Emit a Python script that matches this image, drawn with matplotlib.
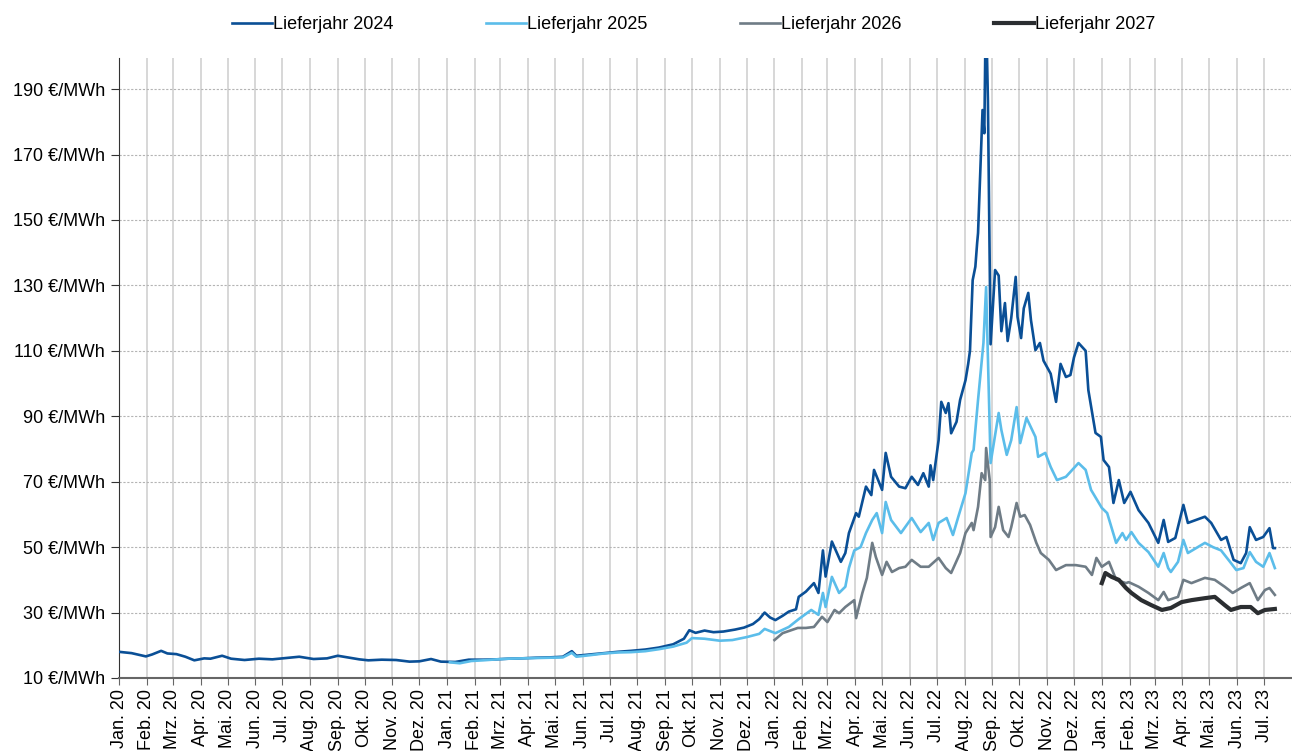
import numpy as np
import pandas as pd
import matplotlib
matplotlib.use("Agg")
import matplotlib.pyplot as plt

plt.rcParams['font.family'] = ['Liberation Sans', 'DejaVu Sans']

## Lieferjahr 2024
tage_2024 = ["2020-01-01", "2020-01-15", "2020-01-31", "2020-02-07", "2020-02-17", "2020-02-24",
             "2020-03-05", "2020-03-15", "2020-03-25", "2020-04-05", "2020-04-12", "2020-04-25",
             "2020-05-05", "2020-05-20", "2020-06-05", "2020-06-20", "2020-07-05", "2020-07-20",
             "2020-08-05", "2020-08-20", "2020-09-01", "2020-09-10", "2020-09-25", "2020-10-05",
             "2020-10-20", "2020-11-05", "2020-11-20", "2020-12-01", "2020-12-14", "2020-12-25",
             "2021-01-10", "2021-01-25", "2021-02-10", "2021-02-25", "2021-03-10", "2021-03-25",
             "2021-04-10", "2021-04-25", "2021-05-10", "2021-05-20", "2021-05-25", "2021-06-10",
             "2021-06-25", "2021-07-10", "2021-07-25", "2021-08-10", "2021-08-25", "2021-09-10",
             "2021-09-22", "2021-09-28", "2021-10-05", "2021-10-15", "2021-10-25", "2021-11-05",
             "2021-11-18", "2021-11-28", "2021-12-08", "2021-12-15", "2021-12-21", "2021-12-27",
             "2022-01-02", "2022-01-10", "2022-01-17", "2022-01-25", "2022-01-28", "2022-02-05",
             "2022-02-14", "2022-02-19", "2022-02-24", "2022-02-27", "2022-03-06", "2022-03-16",
             "2022-03-21", "2022-03-25", "2022-04-02", "2022-04-05", "2022-04-13", "2022-04-19",
             "2022-04-22", "2022-05-01", "2022-05-05", "2022-05-11", "2022-05-20", "2022-05-27",
             "2022-06-03", "2022-06-10", "2022-06-16", "2022-06-22", "2022-06-24", "2022-06-27",
             "2022-07-03", "2022-07-06", "2022-07-11", "2022-07-14", "2022-07-17", "2022-07-23",
             "2022-07-27", "2022-08-02", "2022-08-05", "2022-08-07", "2022-08-10", "2022-08-13",
             "2022-08-15", "2022-08-16", "2022-08-21", "2022-08-23", "2022-08-24", "2022-08-26",
             "2022-08-27", "2022-08-30", "2022-09-04", "2022-09-08", "2022-09-11", "2022-09-15",
             "2022-09-18", "2022-09-22", "2022-09-27", "2022-09-29", "2022-10-03", "2022-10-06",
             "2022-10-11", "2022-10-14", "2022-10-19", "2022-10-24", "2022-10-28", "2022-11-01",
             "2022-11-05", "2022-11-11", "2022-11-16", "2022-11-22", "2022-11-27", "2022-12-01",
             "2022-12-06", "2022-12-14", "2022-12-17", "2022-12-25", "2022-12-31", "2023-01-03",
             "2023-01-09", "2023-01-14", "2023-01-20", "2023-01-26", "2023-02-02", "2023-02-11",
             "2023-02-22", "2023-03-05", "2023-03-11", "2023-03-16", "2023-03-24", "2023-04-02",
             "2023-04-07", "2023-04-16", "2023-04-26", "2023-05-03", "2023-05-14", "2023-05-20",
             "2023-05-28", "2023-06-05", "2023-06-11", "2023-06-15", "2023-06-22", "2023-06-30",
             "2023-07-07", "2023-07-11", "2023-07-13"]
werte_2024 = [18.0, 17.6, 16.6, 17.2, 18.3, 17.5,
              17.3, 16.5, 15.4, 16.0, 15.9, 16.8,
              15.9, 15.5, 15.9, 15.7, 16.1, 16.5,
              15.8, 16.0, 16.8, 16.4, 15.7, 15.4,
              15.6, 15.5, 15.0, 15.1, 15.8, 15.0,
              14.9, 15.6, 15.6, 15.7, 15.9, 16.0,
              16.2, 16.3, 16.5, 18.2, 16.8, 17.2,
              17.6, 18.0, 18.3, 18.7, 19.3, 20.3,
              22.0, 24.6, 23.8, 24.5, 24.0, 24.2,
              24.8, 25.4, 26.5, 28.0, 30.0, 28.5,
              27.7, 29.0, 30.3, 31.0, 34.8, 36.4,
              39.0, 36.0, 49.0, 41.0, 51.7, 45.5,
              48.2, 54.3, 60.4, 59.3, 68.5, 65.9,
              73.6, 67.5, 78.8, 71.5, 68.5, 68.0,
              71.5, 69.0, 72.6, 68.5, 75.0, 70.5,
              82.7, 94.4, 91.0, 94.0, 84.8, 88.3,
              95.0, 101.0, 106.0, 110.0, 131.6, 135.7,
              143.0, 146.0, 183.6, 176.5, 200.0, 200.0,
              186.6, 112.0, 134.7, 133.0, 116.0, 124.6,
              113.0, 120.0, 132.6, 120.4, 113.9, 123.0,
              127.7, 119.4, 110.2, 112.4, 107.0, 105.0,
              103.0, 94.4, 106.0, 102.0, 102.6, 108.0,
              112.4, 110.0, 98.0, 84.9, 83.7, 76.6,
              74.5, 63.5, 70.5, 63.5, 66.9, 61.3,
              57.4, 51.3, 58.3, 51.6, 52.8, 62.9,
              57.4, 58.3, 59.3, 57.4, 52.2, 53.1,
              46.1, 45.1, 48.2, 56.1, 52.2, 53.1,
              55.8, 49.7, 49.7]

## Lieferjahr 2025
tage_2025 = ["2021-01-04", "2021-01-15", "2021-01-28", "2021-02-10", "2021-02-25", "2021-03-10",
             "2021-03-25", "2021-04-10", "2021-04-25", "2021-05-10", "2021-05-20", "2021-05-25",
             "2021-06-10", "2021-06-25", "2021-07-10", "2021-07-25", "2021-08-10", "2021-08-25",
             "2021-09-10", "2021-09-25", "2021-10-01", "2021-10-15", "2021-11-01", "2021-11-15",
             "2021-12-01", "2021-12-15", "2021-12-21", "2022-01-02", "2022-01-17", "2022-01-28",
             "2022-02-11", "2022-02-19", "2022-02-24", "2022-02-27", "2022-03-06", "2022-03-14",
             "2022-03-21", "2022-03-25", "2022-03-31", "2022-04-07", "2022-04-13", "2022-04-20",
             "2022-04-25", "2022-05-01", "2022-05-05", "2022-05-11", "2022-05-22", "2022-06-03",
             "2022-06-13", "2022-06-22", "2022-06-27", "2022-07-03", "2022-07-12", "2022-07-19",
             "2022-07-25", "2022-08-02", "2022-08-09", "2022-08-11", "2022-08-16", "2022-08-22",
             "2022-08-25", "2022-08-30", "2022-09-08", "2022-09-11", "2022-09-17", "2022-09-22",
             "2022-09-28", "2022-10-02", "2022-10-09", "2022-10-19", "2022-10-22", "2022-10-30",
             "2022-11-05", "2022-11-12", "2022-11-22", "2022-12-01", "2022-12-06", "2022-12-14",
             "2022-12-20", "2023-01-01", "2023-01-07", "2023-01-17", "2023-01-24", "2023-01-28",
             "2023-02-03", "2023-02-11", "2023-02-22", "2023-03-05", "2023-03-11", "2023-03-16",
             "2023-03-19", "2023-03-27", "2023-04-02", "2023-04-07", "2023-04-18", "2023-04-26",
             "2023-05-05", "2023-05-14", "2023-05-24", "2023-05-31", "2023-06-08", "2023-06-15",
             "2023-06-22", "2023-06-30", "2023-07-07", "2023-07-13"]
werte_2025 = [14.8, 14.5, 15.2, 15.4, 15.7, 15.9,
              16.0, 16.1, 16.2, 16.3, 17.7, 16.5,
              17.0, 17.5, 17.8, 17.9, 18.2, 18.8,
              19.6, 20.8, 22.2, 22.0, 21.4, 21.6,
              22.5, 23.5, 25.0, 23.7, 25.6, 28.0,
              30.8, 29.3, 36.0, 31.7, 40.9, 36.0,
              37.9, 43.6, 49.0, 50.0, 54.3, 58.3,
              60.4, 54.3, 63.8, 58.3, 54.3, 58.9,
              54.6, 57.4, 52.2, 57.4, 58.9, 53.7,
              59.3, 66.5, 78.8, 79.7, 95.0, 112.4,
              129.5, 75.7, 91.0, 85.8, 78.2, 82.7,
              92.8, 81.8, 89.5, 83.7, 77.6, 78.8,
              74.5, 70.5, 71.5, 74.2, 75.7, 73.6,
              67.5, 62.0, 60.4, 51.3, 54.3, 52.2,
              54.6, 51.3, 48.5, 44.0, 48.2, 43.6,
              42.4, 45.5, 52.2, 48.2, 50.0, 51.3,
              50.0, 49.0, 45.5, 43.0, 43.6, 48.5,
              45.5, 44.0, 48.2, 43.6]

## Lieferjahr 2026
tage_2026 = ["2022-01-01", "2022-01-10", "2022-01-27", "2022-02-05", "2022-02-14", "2022-02-23",
             "2022-03-01", "2022-03-09", "2022-03-14", "2022-03-21", "2022-03-31", "2022-04-02",
             "2022-04-09", "2022-04-14", "2022-04-20", "2022-04-24", "2022-05-01", "2022-05-06",
             "2022-05-12", "2022-05-20", "2022-05-27", "2022-06-03", "2022-06-13", "2022-06-22",
             "2022-07-03", "2022-07-11", "2022-07-17", "2022-07-27", "2022-08-02", "2022-08-09",
             "2022-08-11", "2022-08-16", "2022-08-20", "2022-08-24", "2022-08-25", "2022-08-29",
             "2022-08-30", "2022-09-04", "2022-09-08", "2022-09-13", "2022-09-19", "2022-09-22",
             "2022-09-28", "2022-10-02", "2022-10-07", "2022-10-13", "2022-10-20", "2022-10-25",
             "2022-11-03", "2022-11-11", "2022-11-22", "2022-12-03", "2022-12-14", "2022-12-21",
             "2022-12-26", "2023-01-01", "2023-01-09", "2023-01-17", "2023-01-28", "2023-01-31",
             "2023-02-11", "2023-02-22", "2023-03-05", "2023-03-11", "2023-03-16", "2023-03-27",
             "2023-04-02", "2023-04-11", "2023-04-26", "2023-05-07", "2023-05-18", "2023-05-27",
             "2023-06-05", "2023-06-15", "2023-06-24", "2023-07-02", "2023-07-07", "2023-07-13"]
werte_2026 = [21.6, 23.7, 25.3, 25.3, 25.6, 28.7,
              27.1, 30.8, 29.8, 31.7, 33.8, 28.3,
              36.0, 40.6, 51.3, 47.0, 41.5, 45.5,
              42.4, 43.6, 44.0, 46.1, 44.0, 44.0,
              46.7, 43.6, 42.1, 48.2, 54.3, 57.4,
              55.2, 62.3, 72.6, 70.5, 80.3, 70.5,
              53.1, 56.1, 62.3, 55.2, 53.1, 56.1,
              63.5, 59.3, 59.8, 56.8, 51.3, 48.2,
              46.1, 43.0, 44.5, 44.5, 44.0, 41.5,
              46.7, 44.0, 45.5, 40.0, 39.0, 39.3,
              37.9, 36.0, 33.8, 36.3, 33.8, 34.8,
              40.0, 39.0, 40.6, 40.0, 37.9, 36.0,
              37.5, 39.0, 33.8, 36.9, 37.5, 35.4]

## Lieferjahr 2027
tage_2027 = ["2023-01-01", "2023-01-05", "2023-01-12", "2023-01-20", "2023-01-28", "2023-02-03",
             "2023-02-14", "2023-02-25", "2023-03-09", "2023-03-19", "2023-03-31", "2023-04-11",
             "2023-04-26", "2023-05-07", "2023-05-18", "2023-05-25", "2023-06-05", "2023-06-16",
             "2023-06-24", "2023-07-02", "2023-07-13"]
werte_2027 = [39.0, 42.1, 40.9, 40.0, 37.5, 36.0,
              33.8, 32.3, 30.8, 31.4, 33.2, 33.8,
              34.4, 34.8, 32.3, 30.8, 31.7, 31.7,
              29.8, 30.8, 31.1]

monate = ["Jan.", "Feb.", "Mrz.", "Apr.", "Mai.", "Jun.", "Jul.", "Aug.", "Sep.", "Okt.", "Nov.", "Dez."]
y_ticks = [10, 30, 50, 70, 90, 110, 130, 150, 170, 190]

reihen = [
    ("Lieferjahr 2024", tage_2024, werte_2024, "#0a4f96", 1.9),
    ("Lieferjahr 2025", tage_2025, werte_2025, "#5bbdea", 1.9),
    ("Lieferjahr 2026", tage_2026, werte_2026, "#6f7c86", 1.9),
    ("Lieferjahr 2027", tage_2027, werte_2027, "#2b2e31", 3.0),
]

fig = plt.figure(figsize=(12.92, 7.51), dpi=100)
ax = fig.add_axes([119 / 1292, 1 - 678 / 751, 1172 / 1292, 620 / 751])

for name, tage, werte, farbe, lw in reihen:
    ax.plot(pd.to_datetime(tage), werte, color=farbe, lw=lw, label=name,
            solid_joinstyle='round', zorder=3)

## Monatsachse
monatsanfang = pd.date_range("2020-01-01", "2023-07-01", freq="MS")
ax.set_xticks(monatsanfang)
ax.set_xticklabels([f"{monate[d.month - 1]} {d.year % 100}" for d in monatsanfang],
                   rotation=90, fontsize=13)
ax.set_xlim(pd.Timestamp("2020-01-01"), pd.Timestamp("2023-07-31"))

ax.set_ylim(10, 199.5)
ax.set_yticks(y_ticks)
ax.set_yticklabels([f"{v} €/MWh" for v in y_ticks], fontsize=13)

## Gitter
for d in monatsanfang[1:]:
    ax.axvline(d, color="#d4d4d4", lw=1.3, zorder=1)
for v in y_ticks[1:]:
    ax.axhline(v, color="#b4b4b4", lw=0.8, ls=(0, (2, 1.5)), zorder=1)

for s in ["top", "right"]:
    ax.spines[s].set_visible(False)
ax.spines["left"].set_color("#333333")
ax.spines["bottom"].set_color("#666666")
ax.spines["bottom"].set_linewidth(1.5)
ax.tick_params(axis="y", length=6, color="#333333", pad=4)
ax.tick_params(axis="x", length=5, color="#666666", pad=3)

fig.legend(loc="upper center", bbox_to_anchor=(0.537, 1.0), ncol=4, frameon=False,
           fontsize=13, handlelength=2.2, handletextpad=0.1, columnspacing=5.1)

fig.savefig("out.png", dpi=100)
